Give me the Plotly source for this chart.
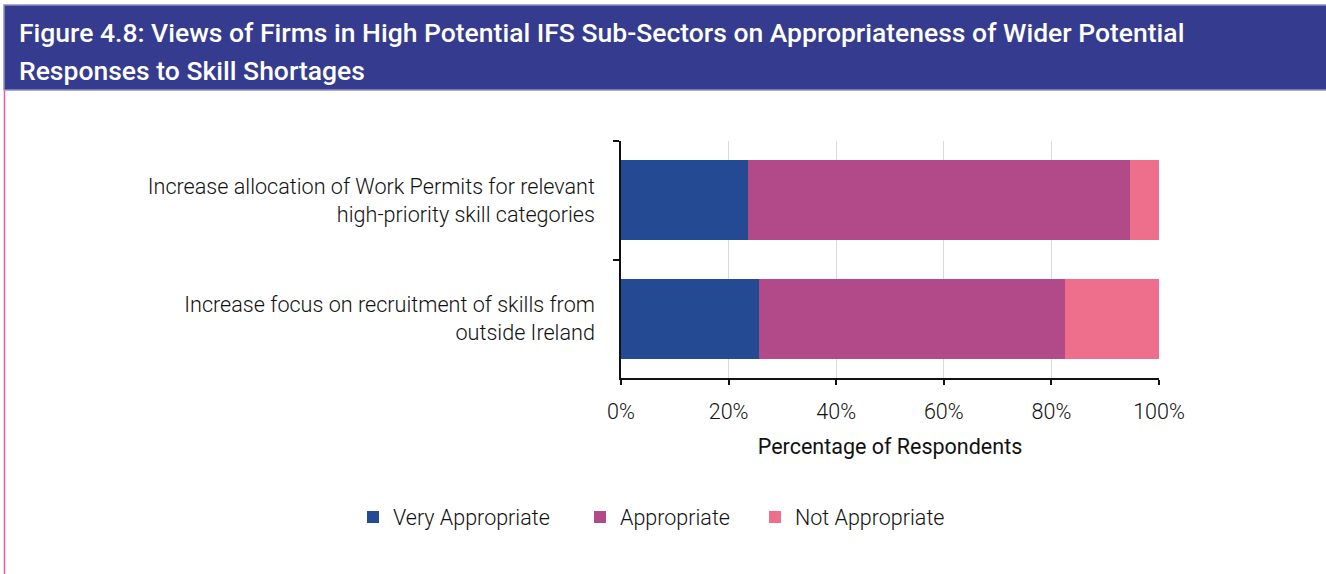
import plotly.graph_objects as go

categories = [
    "Increase allocation of Work Permits for relevant<br>high-priority skill categories",
    "Increase focus on recruitment of skills from<br>outside Ireland",
]
series_names = ["Very Appropriate", "Appropriate", "Not Appropriate"]
very_appropriate = [0.236, 0.257]
appropriate = [0.711, 0.569]
not_appropriate = [0.053, 0.174]
series_values = [very_appropriate, appropriate, not_appropriate]
colors = ["#234A93", "#B24A8A", "#EE6F8B"]

W, H = 1326, 574
ML, MR, MT, MB = 621, 167, 141, 196
PW = W - ML - MR
PH = H - MT - MB

def px(x):
    return (x - ML) / PW

def py(y):
    return (H - MB - y) / PH

fig = go.Figure()
legend_ids = ["legend", "legend2", "legend3"]
for name, vals, col, lid in zip(series_names, series_values, colors, legend_ids):
    fig.add_trace(go.Bar(
        y=categories, x=vals, name=name, orientation="h",
        marker=dict(color=col, line=dict(width=0)),
        legend=lid,
    ))

TXT = "#111111"
font_light = dict(family="Roboto", size=21.6, color=TXT, weight=300)

legend_x = [353, 580, 755]
legend_common = dict(
    orientation="h", yanchor="middle", xanchor="left",
    font=dict(family="Roboto", size=21.5, color=TXT, weight=300),
    bgcolor="rgba(0,0,0,0)", borderwidth=0,
)
layout_legends = {}
for lid, lx in zip(legend_ids, legend_x):
    layout_legends[lid] = dict(legend_common, x=px(lx), y=py(517))

fig.update_layout(
    width=W, height=H,
    margin=dict(l=ML, r=MR, t=MT, b=MB),
    paper_bgcolor="white", plot_bgcolor="white",
    barmode="stack", bargap=0.325,
    showlegend=True,
    **layout_legends,
    xaxis=dict(
        range=[0, 1], dtick=0.2, tickformat=".0%",
        showgrid=True, gridcolor="#d9d9d9", gridwidth=1,
        zeroline=False, showline=True, linecolor=TXT, linewidth=1.5,
        ticks="outside", ticklen=5, tickcolor=TXT, tickwidth=1.5,
        tickfont=dict(family="Roboto", size=21.5, color=TXT, weight=300),
        ticklabelstandoff=8,
        title=dict(text="Percentage of Respondents",
                   font=dict(family="Roboto", size=21.5, color=TXT),
                   standoff=16),
        fixedrange=True,
    ),
    yaxis=dict(
        type="category", autorange="reversed",
        showline=True, linecolor=TXT, linewidth=1.5,
        ticks="outside", ticklen=6, tickcolor=TXT, tickwidth=1.5,
        tickson="boundaries", showgrid=False,
        tickfont=font_light,
        ticklabelstandoff=20,
        fixedrange=True,
    ),
    shapes=[
        dict(type="rect", xref="paper", yref="paper",
             x0=px(4), x1=px(1330), y0=py(90), y1=py(5),
             fillcolor="#353B8F", line=dict(color="#8E90C4", width=1.5),
             layer="below"),
        dict(type="line", xref="paper", yref="paper",
             x0=px(4.5), x1=px(4.5), y0=py(91), y1=py(576),
             line=dict(color="#D65DB1", width=1.5)),
    ],
    annotations=[
        dict(text="Figure 4.8: Views of Firms in High Potential IFS Sub-Sectors on Appropriateness of Wider Potential",
             xref="paper", yref="paper", x=px(17), y=py(32),
             xanchor="left", yanchor="middle", showarrow=False,
             font=dict(family="Roboto", size=26.5, color="white", weight=500)),
        dict(text="Responses to Skill Shortages",
             xref="paper", yref="paper", x=px(17), y=py(70),
             xanchor="left", yanchor="middle", showarrow=False,
             font=dict(family="Roboto", size=26.5, color="white", weight=500)),
    ],
)

fig.write_html("out.html", config={"displayModeBar": False},
               post_script="document.body.style.margin='0px';")
